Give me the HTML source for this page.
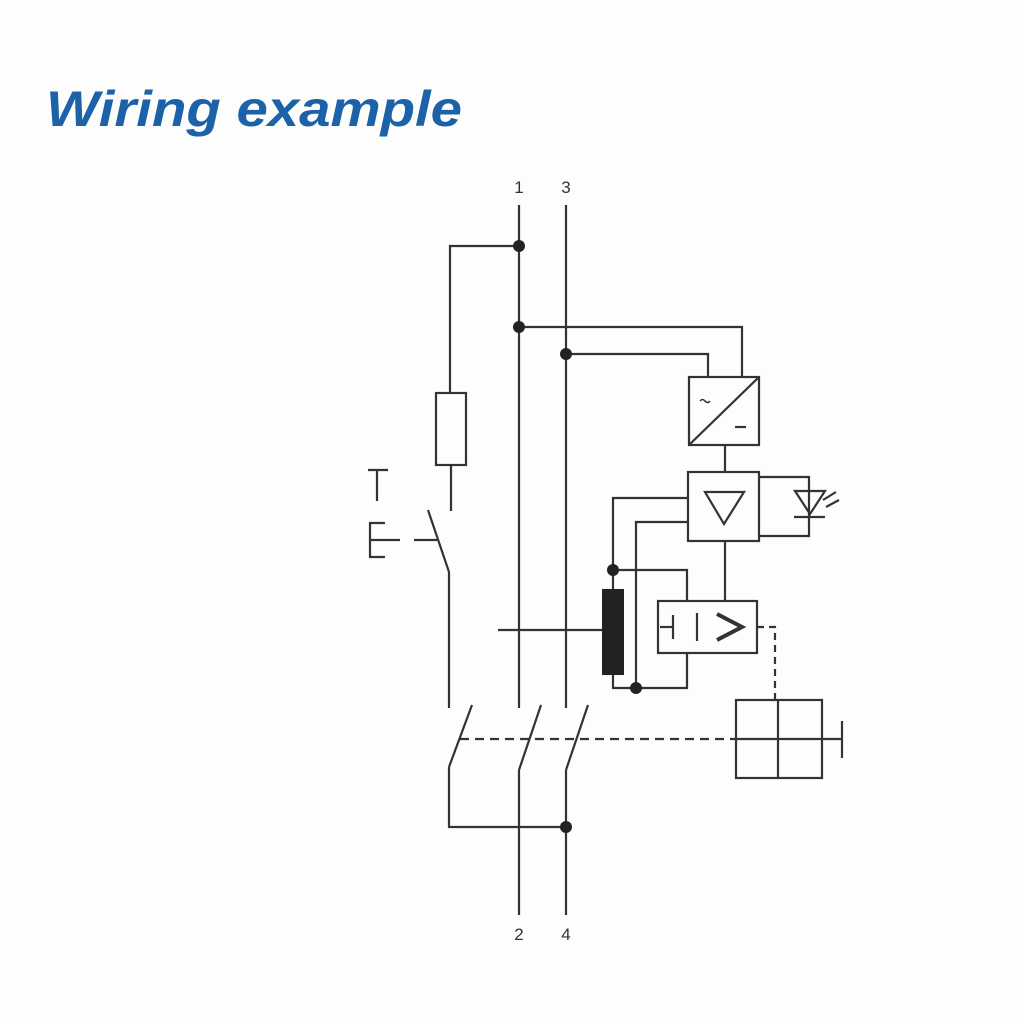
<!DOCTYPE html>
<html><head><style>
html,body{margin:0;padding:0;background:#fff;}
svg{display:block}
</style></head><body>
<svg width="1024" height="1024" viewBox="0 0 1024 1024" xmlns="http://www.w3.org/2000/svg">
<rect width="1024" height="1024" fill="#fdfdfd"/>
<text x="46" y="126" font-family="Liberation Sans, sans-serif" font-size="50" font-style="italic" font-weight="bold" fill="#1b62a8" textLength="416" lengthAdjust="spacingAndGlyphs">Wiring example</text>
<g font-family="Liberation Sans, sans-serif" font-size="17" fill="#333" text-anchor="middle">
<text x="519" y="193">1</text><text x="566" y="193">3</text>
<text x="519" y="940">2</text><text x="566" y="940">4</text>
</g>
<g stroke="#333" stroke-width="2.2" fill="none">
<!-- main lines -->
<line x1="519" y1="205" x2="519" y2="708"/>
<line x1="566" y1="205" x2="566" y2="708"/>
<line x1="519" y1="770" x2="519" y2="915"/>
<line x1="566" y1="770" x2="566" y2="915"/>
<line x1="519" y1="770" x2="541" y2="705"/>
<line x1="566" y1="770" x2="588" y2="705"/>
<!-- N switch -->
<line x1="449" y1="572" x2="449" y2="708"/>
<line x1="449" y1="767" x2="472" y2="705"/>
<polyline points="449,767 449,827 566,827"/>
<line x1="460" y1="739" x2="735" y2="739" stroke-dasharray="9,6"/>
<!-- test circuit -->
<polyline points="519,246 450,246 450,393"/>
<rect x="436" y="393" width="30" height="72"/>
<line x1="451" y1="465" x2="451" y2="511"/>
<line x1="428" y1="510" x2="449" y2="572"/>
<line x1="368" y1="470" x2="388" y2="470"/>
<line x1="377" y1="470" x2="377" y2="501"/>
<polyline points="385,523 370,523 370,557 385,557"/>
<line x1="370" y1="540" x2="400" y2="540"/>
<line x1="414" y1="540" x2="437" y2="540"/>
<!-- supply -->
<polyline points="519,327 742,327 742,377"/>
<polyline points="566,354 708,354 708,377"/>
<rect x="689" y="377" width="70" height="68"/>
<line x1="689" y1="445" x2="759" y2="377"/>
<line x1="735" y1="427" x2="746" y2="427"/>
<path d="M700 401 q2.5 -3 5 0 t5 0" stroke-width="1.5"/>
<line x1="725" y1="445" x2="725" y2="472"/>
<rect x="688" y="472" width="71" height="69"/>
<polygon points="705,492 744,492 724,524"/>
<polyline points="759,477 809,477 809,536 759,536"/>
<polygon points="795,491 825,491 810,514"/>
<line x1="794" y1="517" x2="825" y2="517"/>
<line x1="823" y1="500" x2="836" y2="492"/>
<line x1="826" y1="507" x2="839" y2="500"/>
<polyline points="688,498 613,498 613,589"/>
<polyline points="688,522 636,522 636,688"/>
<polyline points="613,570 687,570 687,601"/>
<polyline points="613,675 613,688 687,688 687,653"/>
<line x1="498" y1="630" x2="602" y2="630"/>
<line x1="725" y1="541" x2="725" y2="601"/>
<rect x="658" y="601" width="99" height="52"/>
<line x1="660" y1="627" x2="673" y2="627"/>
<line x1="673" y1="615" x2="673" y2="639"/>
<line x1="697" y1="613" x2="697" y2="641"/>
<polyline points="717,614 742,627 717,640" stroke-width="4"/>
<polyline points="757,627 775,627 775,700" stroke-dasharray="7,5"/>
<rect x="736" y="700" width="86" height="78"/>
<line x1="778" y1="700" x2="778" y2="778"/>
<line x1="736" y1="739" x2="822" y2="739"/>
<line x1="822" y1="739" x2="842" y2="739"/>
<line x1="842" y1="721" x2="842" y2="758"/>
</g>
<rect x="602" y="589" width="22" height="86" fill="#222"/>
<g fill="#222">
<circle cx="519" cy="246" r="6"/>
<circle cx="519" cy="327" r="6"/>
<circle cx="566" cy="354" r="6"/>
<circle cx="613" cy="570" r="6"/>
<circle cx="636" cy="688" r="6"/>
<circle cx="566" cy="827" r="6"/>
</g>
</svg>
</body></html>
